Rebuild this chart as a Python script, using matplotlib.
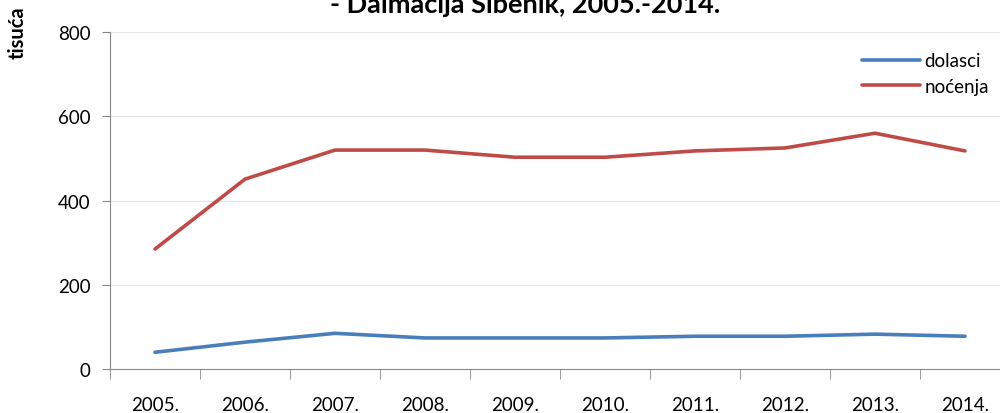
import numpy as np
import matplotlib.pyplot as plt
from matplotlib.ticker import FixedLocator

plt.rcParams['font.family'] = ['Lato', 'DejaVu Sans']

# podaci (tisuća)
godine = ['2005.', '2006.', '2007.', '2008.', '2009.', '2010.', '2011.', '2012.', '2013.', '2014.']
dolasci = [40, 64, 85, 74, 74, 74, 78, 78, 83, 78]
nocenja = [285, 451, 520, 520, 503, 503, 518, 525, 560, 518]

fig = plt.figure(figsize=(10, 4.14), dpi=100)
ax = fig.add_axes([0.11, 0.106, 0.90, 0.814])

x = np.arange(len(godine))
ax.plot(x, dolasci, color='#4a7ebb', lw=2.6, label='dolasci', solid_capstyle='round')
ax.plot(x, nocenja, color='#be4b48', lw=2.6, label='noćenja', solid_capstyle='round')

ax.set_xlim(-0.5, len(godine) - 0.5)
ax.set_ylim(0, 800)
ax.set_yticks([0, 200, 400, 600, 800])
ax.set_xticks(x)
ax.set_xticklabels(godine)
ax.xaxis.set_minor_locator(FixedLocator(np.arange(-0.5, len(godine), 1)))
ax.tick_params(axis='x', which='major', length=0, pad=19, labelsize=13.5)
ax.tick_params(axis='x', which='minor', length=7, color='#888888')
ax.tick_params(axis='y', length=6, color='#888888', labelsize=13.5, pad=8)

ax.grid(axis='y', color='#e6e6e6', lw=0.8)
ax.set_axisbelow(True)
for s in ['top', 'right']:
    ax.spines[s].set_visible(False)
for s in ['left', 'bottom']:
    ax.spines[s].set_color('#888888')

ax.legend(loc='upper right', bbox_to_anchor=(0.995, 0.99), frameon=False,
          fontsize=13.5, handlelength=3.1, handletextpad=0.2, labelspacing=0.45)

fig.text(0.008, 0.985, 'tisuća', rotation=90, fontsize=14.5, fontweight='bold',
         ha='left', va='top')
fig.text(0.525, 0.96, '- Dalmacija Šibenik, 2005.-2014.', fontsize=19.5,
         fontweight='bold', ha='center', va='bottom')

plt.savefig('out.png', dpi=100)
